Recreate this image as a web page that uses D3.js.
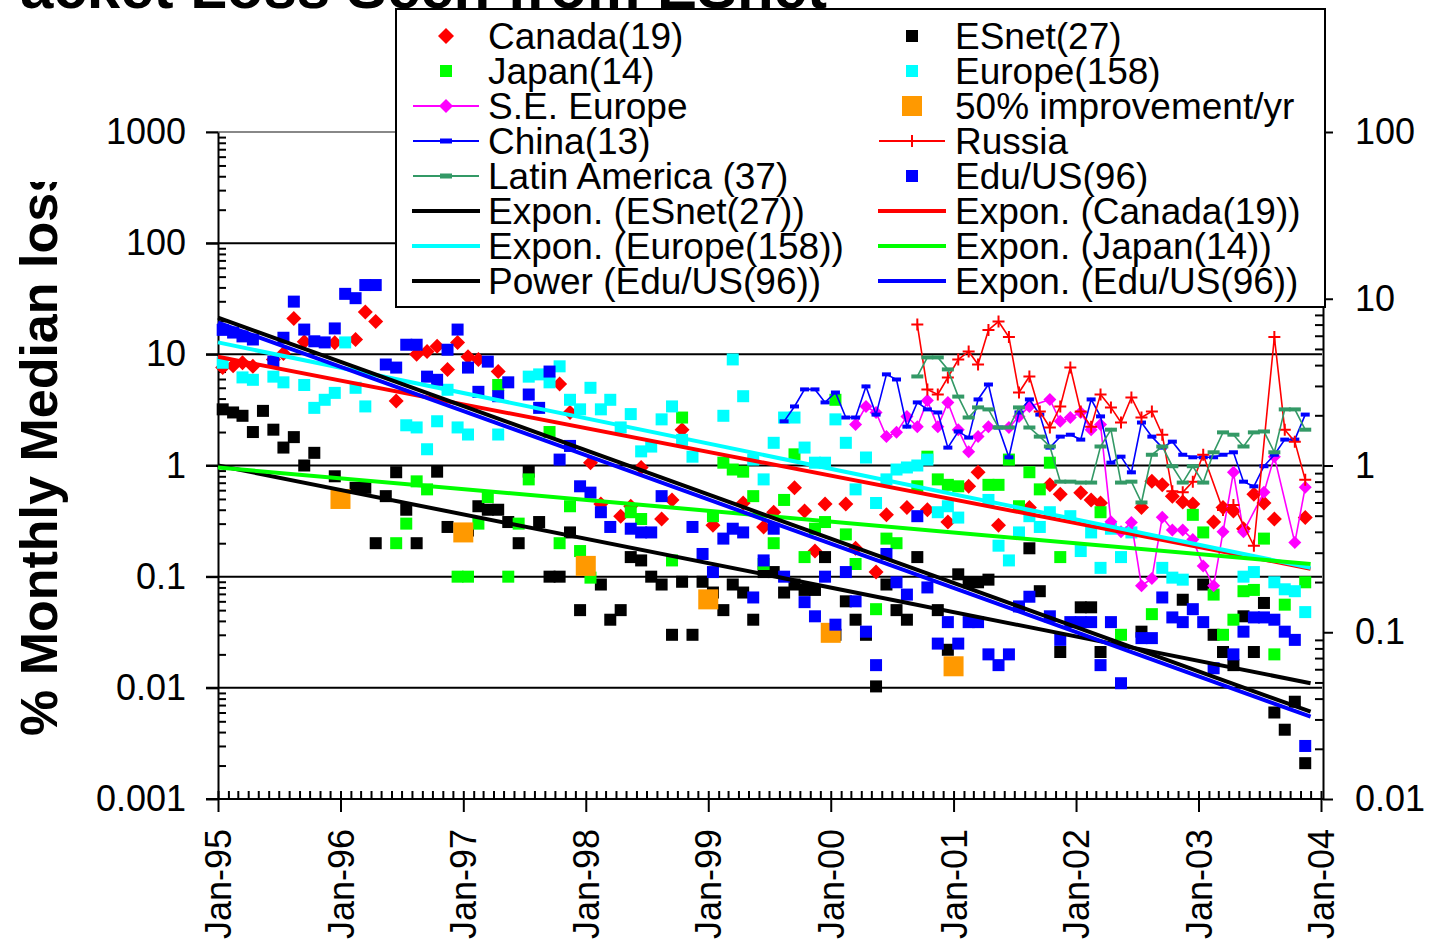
<!DOCTYPE html>
<html><head><meta charset="utf-8">
<script src="https://cdn.jsdelivr.net/npm/d3@7"></script>
<style>
body{margin:0;background:#fff}
svg{display:block}
text{font-family:"Liberation Sans",Arial,sans-serif;fill:#000}
</style>
</head><body>
<svg id="c" width="1429" height="946"></svg>
<script>
// ---------------- data (month index: 0 = Jan-95) ----------------
const yearLabels = ["Jan-95","Jan-96","Jan-97","Jan-98","Jan-99","Jan-00","Jan-01","Jan-02","Jan-03","Jan-04"];
const leftTicks = [1000,100,10,1,0.1,0.01,0.001];
const rightTicks = [100,10,1,0.1,0.01];

const canada = [[0,7.6],[1,7.9],[2,8.4],[3,7.8],[5,9.0],[6,10.2],[7,21],[8,13],[11,12.7],[13,13.6],[14,24],[15,19.7],[17,3.8],[19,10],[20,10.6],[21,11.8],[22,7.3],[23,12.8],[24,9.5],[25,9.0],[27,7.0],[33,5.4],[34,3.0],[36,1.06],[37,0.45],[39,0.35],[40,0.43],[41,0.96],[43,0.33],[44,0.49],[45,2.1],[48,0.29],[51,0.46],[53,0.28],[54,0.38],[56,0.63],[57,0.39],[58,0.17],[59,0.45],[61,0.45],[62,0.18],[64,0.11],[65,0.36],[67,0.42],[69,0.40],[71,0.31],[73,0.65],[74,0.87],[76,0.29],[79,0.42],[81,0.67],[82,0.55],[84,0.57],[85,0.49],[86,0.46],[90,0.42],[91,0.72],[92,0.67],[93,0.53],[94,0.47],[95,0.45],[97,0.31],[98,0.42],[99,0.39],[100,0.27],[101,0.55],[102,0.46],[103,0.33],[106,0.34]];

const esnet = [[0,3.2],[1,3.0],[2,2.8],[3,2.0],[4,3.1],[5,2.1],[6,1.45],[7,1.8],[8,1.0],[9,1.3],[11,0.8],[13,0.63],[14,0.63],[15,0.2],[16,0.53],[17,0.87],[18,0.4],[19,0.2],[21,0.88],[22,0.28],[24,0.26],[25,0.43],[26,0.4],[27,0.4],[28,0.31],[29,0.2],[30,0.88],[31,0.31],[32,0.1],[33,0.1],[34,0.25],[35,0.05],[37,0.085],[38,0.041],[39,0.05],[40,0.15],[41,0.14],[42,0.1],[43,0.085],[44,0.03],[45,0.09],[46,0.03],[47,0.09],[48,0.072],[49,0.05],[50,0.085],[51,0.072],[52,0.041],[53,0.11],[54,0.11],[55,0.072],[56,0.085],[57,0.076],[58,0.076],[59,0.15],[60,0.03],[61,0.06],[62,0.041],[63,0.03],[64,0.0103],[65,0.085],[66,0.05],[67,0.041],[68,0.15],[70,0.05],[71,0.022],[72,0.105],[73,0.089],[74,0.089],[75,0.094],[79,0.18],[80,0.074],[82,0.021],[84,0.053],[85,0.053],[86,0.021],[90,0.032],[94,0.062],[96,0.085],[97,0.03],[98,0.021],[99,0.016],[100,0.044],[101,0.021],[102,0.058],[103,0.006],[104,0.0042],[105,0.0075],[106,0.0021]];

const japan = [[17,0.20],[18,0.30],[19,0.72],[20,0.61],[23,0.10],[24,0.10],[25,0.30],[26,0.52],[27,5.3],[28,0.10],[29,0.30],[30,0.75],[32,2.0],[33,0.20],[34,0.43],[35,0.17],[36,0.098],[40,0.38],[41,0.33],[44,0.14],[45,2.7],[48,0.35],[49,1.06],[50,0.92],[51,0.88],[52,0.53],[53,0.13],[54,0.20],[55,0.49],[56,1.26],[57,0.15],[58,0.27],[59,0.31],[60,3.9],[61,0.24],[62,0.13],[64,0.051],[65,0.22],[66,0.20],[68,0.65],[69,1.2],[70,0.75],[71,0.67],[72,0.65],[75,0.67],[76,0.67],[77,1.13],[78,0.43],[79,0.87],[80,0.61],[81,1.06],[82,0.15],[86,0.38],[88,0.030],[91,0.046],[95,0.36],[96,0.25],[97,0.069],[98,0.030],[99,0.041],[100,0.074],[101,0.076],[102,0.22],[103,0.020],[104,0.056],[106,0.089]];

const europe = [[0,8.4],[2,6.2],[3,5.9],[5,6.3],[6,5.6],[8,5.3],[9,3.3],[10,3.9],[11,4.5],[12,12.8],[13,5.0],[14,3.4],[18,2.3],[19,2.2],[20,1.4],[21,2.5],[22,4.8],[23,2.2],[24,1.9],[27,1.9],[30,6.3],[31,6.6],[32,5.6],[33,7.8],[34,3.9],[35,3.2],[36,5.0],[37,3.2],[38,3.9],[39,2.2],[40,2.9],[41,1.34],[42,1.48],[43,2.6],[44,3.4],[45,1.7],[46,1.2],[49,2.8],[50,9.0],[51,4.2],[52,1.13],[53,0.75],[54,1.6],[55,2.7],[56,2.7],[57,1.45],[58,1.06],[59,1.06],[60,2.6],[61,1.6],[62,0.61],[63,1.18],[64,0.46],[65,0.75],[66,0.92],[67,0.96],[68,1.0],[69,1.13],[70,0.38],[71,0.43],[72,0.34],[75,0.49],[76,0.19],[77,0.14],[78,0.25],[79,0.35],[80,0.28],[81,0.38],[83,0.35],[84,0.17],[85,0.25],[86,0.12],[87,0.27],[88,0.15],[89,0.25],[92,0.12],[93,0.098],[94,0.094],[100,0.10],[101,0.11],[103,0.089],[104,0.077],[105,0.074],[106,0.048]];

const eduUS = [[0,16.6],[1,15.7],[2,14.5],[3,13.6],[5,8.6],[6,14.1],[7,29.8],[8,16.7],[9,13.1],[10,12.8],[11,17.1],[12,35],[13,32],[14,42],[15,42],[16,8.1],[17,7.6],[18,12.2],[19,12.2],[20,6.3],[21,5.9],[22,11.0],[23,16.7],[24,7.6],[25,4.6],[26,8.6],[27,4.2],[28,5.6],[30,4.35],[31,3.3],[32,7.0],[33,1.13],[34,1.5],[35,0.65],[36,0.57],[37,0.38],[38,0.28],[40,0.27],[41,0.25],[42,0.25],[43,0.53],[46,0.28],[47,0.16],[48,0.11],[49,0.22],[50,0.27],[51,0.25],[52,0.065],[53,0.14],[54,0.27],[55,0.10],[57,0.059],[58,0.044],[59,0.10],[60,0.037],[61,0.11],[62,0.06],[63,0.032],[64,0.016],[65,0.16],[66,0.089],[67,0.069],[68,0.35],[69,0.08],[70,0.025],[71,0.039],[72,0.025],[73,0.039],[74,0.039],[75,0.02],[76,0.016],[77,0.02],[78,0.054],[79,0.066],[81,0.044],[82,0.027],[83,0.039],[84,0.039],[85,0.039],[86,0.016],[87,0.039],[88,0.011],[90,0.028],[91,0.028],[92,0.065],[93,0.043],[94,0.039],[95,0.051],[96,0.039],[97,0.015],[99,0.02],[100,0.032],[101,0.043],[102,0.043],[103,0.041],[104,0.032],[105,0.027],[106,0.003]];

const improvement = [[12,0.5],[24,0.25],[36,0.125],[48,0.0625],[60,0.03125],[72,0.015625]];

// secondary (right) axis series
const seEurope = [[62,1.76],[63,2.26],[64,2.08],[65,1.49],[66,1.58],[67,1.97],[68,1.71],[69,2.45],[70,1.71],[71,2.39],[72,1.64],[73,1.21],[74,1.49],[75,1.71],[77,1.69],[78,1.97],[79,2.26],[81,2.49],[82,1.84],[83,1.94],[84,2.08],[85,1.64],[86,1.76],[87,0.46],[88,0.40],[89,0.455],[90,0.19],[91,0.21],[92,0.49],[93,0.41],[94,0.41],[95,0.36],[96,0.25],[97,0.19],[98,0.40],[99,0.91],[100,0.40],[102,0.69],[103,1.13],[105,0.345],[106,0.74]];

const china = [[55,1.84],[56,2.26],[57,2.86],[58,2.86],[59,2.39],[60,2.74],[61,1.94],[62,1.94],[63,2.98],[64,2.02],[65,3.52],[66,3.28],[67,1.71],[68,2.39],[69,2.17],[70,2.08],[71,1.28],[72,1.60],[73,1.47],[74,2.49],[75,3.06],[76,1.69],[77,1.12],[78,2.08],[79,2.49],[80,2.02],[81,1.28],[82,1.49],[83,1.53],[84,1.43],[85,2.49],[86,1.97],[87,1.04],[88,1.13],[89,0.91],[90,1.81],[91,1.49],[92,1.28],[93,1.39],[94,1.16],[95,1.12],[96,1.12],[97,1.12],[98,1.16],[99,1.20],[100,0.80],[101,0.75],[102,0.99],[103,1.16],[104,1.43],[105,1.43],[106,2.02]];

const russia = [[68,7.0],[69,2.86],[70,2.67],[71,3.37],[72,4.32],[73,4.83],[74,4.03],[75,6.5],[76,7.3],[77,5.9],[78,2.74],[79,3.42],[80,2.11],[81,1.69],[82,2.26],[83,3.87],[84,2.11],[85,1.71],[86,2.67],[87,2.23],[88,1.81],[89,2.56],[90,1.94],[91,2.11],[92,1.53],[93,0.70],[94,0.69],[95,0.80],[96,1.16],[98,0.54],[99,0.58],[101,0.33],[103,5.9],[104,1.64],[105,1.39],[106,0.82]];

const latinAmerica = [[68,3.42],[69,4.45],[70,4.45],[71,3.77],[72,2.59],[73,1.94],[74,2.23],[75,2.17],[76,1.69],[77,1.69],[78,2.23],[79,1.69],[80,1.49],[81,1.30],[82,0.80],[83,0.80],[84,0.79],[85,0.79],[86,1.30],[87,1.64],[88,0.79],[89,0.80],[90,0.60],[91,1.16],[92,1.30],[93,0.99],[94,0.79],[95,0.99],[96,0.79],[97,1.20],[98,1.58],[99,1.53],[100,1.30],[101,1.58],[102,1.60],[103,1.20],[104,2.17],[105,2.17],[106,1.64]];

// trend lines read at their ends (month index, value)
const trendESnet = [[0,1.0],[107,0.011]];
const trendCanada = [[0,9.5],[107,0.118]];
const trendEurope = [[0,12.8],[107,0.12]];
const trendJapan = [[0,0.96],[107,0.13]];
const trendEduPower = [[0,21.4],[107,0.0061]];
const trendEduExpon = [[0,19.3],[107,0.0055]];

// ---------------- drawing ----------------
const svg = d3.select("#c");
const mid = m => new Date(1995, m, 15);
const start = m => new Date(1995, m, 1);

const x = d3.scaleTime().domain([new Date(1995,0,1), new Date(2004,0,1)]).range([218,1321]);
const yL = d3.scaleLog().domain([0.001,1000]).range([799,132]);
const yR = d3.scaleLog().domain([0.01,100]).range([799,132]);

// title (cropped at top in the reference)
svg.append("text").attr("x",-20).attr("y",8).attr("font-size",60).attr("font-weight","bold")
  .text("Packet Loss Seen from ESnet");

// y axis title, clipped at its top end as in the reference
svg.append("clipPath").attr("id","ytclip").append("rect").attr("x",0).attr("y",182).attr("width",120).attr("height",700);
svg.append("g").attr("clip-path","url(#ytclip)")
  .append("text")
  .attr("transform","translate(57,736) rotate(-90)")
  .attr("font-size",52).attr("font-weight","bold").text("% Monthly Median loss");

// gridlines
const gridVals = [1000,100,10,1,0.1,0.01];
svg.append("g").selectAll("line").data(gridVals).join("line")
  .attr("x1",206).attr("x2",1322).attr("y1",d=>yL(d)).attr("y2",d=>yL(d))
  .attr("stroke",d=>d===1000?"#888":"#000").attr("stroke-width",2);

// minor ticks helpers
function minors(lo,hi){const a=[];for(let e=Math.log10(lo);e<Math.log10(hi);e++){for(let k=2;k<=9;k++)a.push(k*Math.pow(10,e));}return a;}

// left axis
const gL = svg.append("g").attr("transform","translate(218,0)");
gL.call(d3.axisLeft(yL).tickValues(minors(0.001,1000)).tickSizeInner(-8).tickSizeOuter(0).tickFormat(""));
gL.call(g=>g.select(".domain").remove());
gL.selectAll("line").attr("stroke","#000").attr("stroke-width",2);
const gL2 = svg.append("g").attr("transform","translate(218,0)");
gL2.call(d3.axisLeft(yL).tickValues(leftTicks).tickSizeInner(12).tickSizeOuter(0).tickPadding(20).tickFormat(d3.format("~g")));
gL2.selectAll("line,path").attr("stroke","#000").attr("stroke-width",2);
gL2.selectAll("text").attr("font-size",36).attr("font-family","Liberation Sans, Arial, sans-serif");

// right axis
const gR = svg.append("g").attr("transform","translate(1323,0)");
gR.call(d3.axisRight(yR).tickValues(minors(0.01,100)).tickSizeInner(-8).tickSizeOuter(0).tickFormat(""));
gR.call(g=>g.select(".domain").remove());
gR.selectAll("line").attr("stroke","#000").attr("stroke-width",2);
const gR2 = svg.append("g").attr("transform","translate(1323,0)");
gR2.call(d3.axisRight(yR).tickValues(rightTicks).tickSizeInner(10).tickSizeOuter(0).tickPadding(22).tickFormat(d3.format("~g")));
gR2.selectAll("line,path").attr("stroke","#000").attr("stroke-width",2);
gR2.selectAll("text").attr("font-size",36).attr("font-family","Liberation Sans, Arial, sans-serif");

// x axis
const months = d3.timeMonth.range(new Date(1995,0,1), new Date(2004,0,2));
const gX = svg.append("g").attr("transform","translate(0,799)");
gX.call(d3.axisBottom(x).tickValues(months).tickSizeInner(-8).tickSizeOuter(0).tickFormat(""));
gX.call(g=>g.select(".domain").remove());
gX.selectAll("line").attr("stroke","#000").attr("stroke-width",2);
const years = d3.timeYear.range(new Date(1995,0,1), new Date(2004,0,2));
const gX2 = svg.append("g").attr("transform","translate(0,799)");
gX2.call(d3.axisBottom(x).tickValues(years).tickSizeInner(13).tickSizeOuter(0).tickFormat((d,i)=>yearLabels[i]));
gX2.select(".domain").attr("d","M206,0H1323");
gX2.selectAll("line,path").attr("stroke","#000").attr("stroke-width",2);
gX2.selectAll("text").attr("font-size",36).attr("font-family","Liberation Sans, Arial, sans-serif")
  .attr("transform","rotate(-90)").attr("x",-30).attr("y",0).attr("dy","0.35em").attr("text-anchor","end");

const plot = svg.append("g");

// marker helpers
function squares(data, color, size, pos){
  plot.append("g").selectAll("rect").data(data).join("rect")
    .attr("x",d=>x(pos(d[0]))-size/2).attr("y",d=>yL(d[1])-size/2)
    .attr("width",size).attr("height",size).attr("fill",color);
}
const diamondPath = r => `M0,${-r}L${r},0L0,${r}L${-r},0Z`;
function diamonds(data,color,r,ys){
  plot.append("g").selectAll("path").data(data).join("path")
    .attr("transform",d=>`translate(${x(mid(d[0]))},${ys(d[1])})`)
    .attr("d",diamondPath(r)).attr("fill",color);
}
function lineSeries(data,color,ys,w){
  plot.append("path").datum(data)
    .attr("d",d3.line().x(d=>x(mid(d[0]))).y(d=>ys(d[1])))
    .attr("fill","none").attr("stroke",color).attr("stroke-width",w);
}
function dashes(data,color,wd,ys){
  plot.append("g").selectAll("rect").data(data).join("rect")
    .attr("x",d=>x(mid(d[0]))-wd/2).attr("y",d=>ys(d[1])-2).attr("width",wd).attr("height",4).attr("fill",color);
}
function pluses(data,color,r,ys){
  plot.append("g").selectAll("path").data(data).join("path")
    .attr("transform",d=>`translate(${x(mid(d[0]))},${ys(d[1])})`)
    .attr("d",`M${-r},0H${r}M0,${-r}V${r}`).attr("stroke",color).attr("stroke-width",2).attr("fill","none");
}

// primary series
diamonds(canada,"#ff0000",7.5,yL);
squares(esnet,"#000000",12,mid);
squares(japan,"#00ff00",12,mid);
squares(europe,"#00ffff",12,mid);
// secondary-axis line series
lineSeries(seEurope,"#ff00ff",yR,1.6);
diamonds(seEurope,"#ff00ff",6.5,yR);
squares(improvement,"#ff9900",20,start);
lineSeries(china,"#0000ff",yR,1.6);
dashes(china,"#0000ff",9,yR);
lineSeries(russia,"#ff0000",yR,1.6);
pluses(russia,"#ff0000",6,yR);
lineSeries(latinAmerica,"#339966",yR,1.6);
dashes(latinAmerica,"#339966",12,yR);
squares(eduUS,"#0000ff",12,mid);

// trend lines
function trend(data,color){
  plot.append("path").datum(data)
    .attr("d",d3.line().x(d=>x(start(d[0]))).y(d=>yL(d[1])))
    .attr("fill","none").attr("stroke",color).attr("stroke-width",4);
}
trend(trendESnet,"#000000");
trend(trendCanada,"#ff0000");
trend(trendEurope,"#00ffff");
trend(trendJapan,"#00ff00");
trend(trendEduPower,"#000000");
trend(trendEduExpon,"#0000ff");

// legend
const leg = svg.append("g");
leg.append("rect").attr("x",396).attr("y",9).attr("width",929).attr("height",298)
  .attr("fill","#fff").attr("stroke","#000").attr("stroke-width",2);
const legendItems = [
  {t:"Canada(19)",col:0,row:0,kind:"diamond",c:"#ff0000"},
  {t:"ESnet(27)",col:1,row:0,kind:"square",c:"#000000"},
  {t:"Japan(14)",col:0,row:1,kind:"square",c:"#00ff00"},
  {t:"Europe(158)",col:1,row:1,kind:"square",c:"#00ffff"},
  {t:"S.E. Europe",col:0,row:2,kind:"linediamond",c:"#ff00ff"},
  {t:"50% improvement/yr",col:1,row:2,kind:"bigsquare",c:"#ff9900"},
  {t:"China(13)",col:0,row:3,kind:"linedash",c:"#0000ff"},
  {t:"Russia",col:1,row:3,kind:"lineplus",c:"#ff0000"},
  {t:"Latin America (37)",col:0,row:4,kind:"linedash",c:"#339966"},
  {t:"Edu/US(96)",col:1,row:4,kind:"square",c:"#0000ff"},
  {t:"Expon. (ESnet(27))",col:0,row:5,kind:"thick",c:"#000000"},
  {t:"Expon. (Canada(19))",col:1,row:5,kind:"thick",c:"#ff0000"},
  {t:"Expon. (Europe(158))",col:0,row:6,kind:"thick",c:"#00ffff"},
  {t:"Expon. (Japan(14))",col:1,row:6,kind:"thick",c:"#00ff00"},
  {t:"Power (Edu/US(96))",col:0,row:7,kind:"thick",c:"#000000"},
  {t:"Expon. (Edu/US(96))",col:1,row:7,kind:"thick",c:"#0000ff"}
];
legendItems.forEach(it=>{
  const cx = it.col===0 ? 446 : 912;
  const tx = it.col===0 ? 488 : 955;
  const cy = 36 + it.row*35;
  const g = leg.append("g");
  if(it.kind.startsWith("line")) g.append("line").attr("x1",cx-33).attr("x2",cx+33).attr("y1",cy).attr("y2",cy).attr("stroke",it.c).attr("stroke-width",2);
  if(it.kind==="thick") g.append("line").attr("x1",cx-34).attr("x2",cx+34).attr("y1",cy).attr("y2",cy).attr("stroke",it.c).attr("stroke-width",4);
  if(it.kind==="diamond"||it.kind==="linediamond") g.append("path").attr("transform",`translate(${cx},${cy})`).attr("d",diamondPath(it.kind==="diamond"?8:7)).attr("fill",it.c);
  if(it.kind==="square") g.append("rect").attr("x",cx-6).attr("y",cy-6).attr("width",12).attr("height",12).attr("fill",it.c);
  if(it.kind==="bigsquare") g.append("rect").attr("x",cx-10).attr("y",cy-10).attr("width",20).attr("height",20).attr("fill",it.c);
  if(it.kind==="linedash") g.append("rect").attr("x",cx-6).attr("y",cy-2.5).attr("width",12).attr("height",5).attr("fill",it.c);
  if(it.kind==="lineplus") g.append("path").attr("transform",`translate(${cx},${cy})`).attr("d","M-6,0H6M0,-6V6").attr("stroke",it.c).attr("stroke-width",2);
  g.append("text").attr("x",tx).attr("y",cy).attr("dy","0.35em").attr("font-size",37).text(it.t);
});
</script>
</body></html>
